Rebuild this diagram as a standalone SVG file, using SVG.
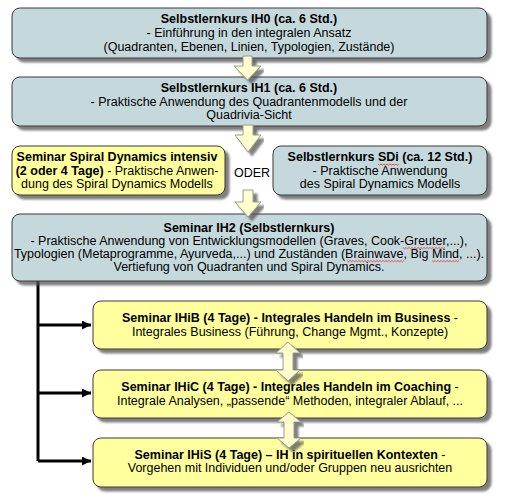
<svg xmlns="http://www.w3.org/2000/svg" width="505" height="500" viewBox="0 0 505 500">
<defs>
<filter id="sh" x="-5%" y="-10%" width="115%" height="130%">
<feDropShadow dx="4" dy="4" stdDeviation="1.2" flood-color="#555" flood-opacity="0.75"/>
</filter>
<marker id="ah" viewBox="0 0 10 10" refX="10" refY="5" markerWidth="3.4" markerHeight="3" orient="auto" markerUnits="strokeWidth">
<path d="M0,0 L10,5 L0,10 z" fill="#000"/>
</marker>
</defs>
<style>
.blue{fill:#c5d9dd;stroke:#3a3a3a;stroke-width:1}
.yel{fill:#ffff9d;stroke:#3a3a3a;stroke-width:1}
text{font-family:"Liberation Sans",Arial,sans-serif;font-size:12.5px;fill:#000;text-anchor:middle}
.b{font-weight:bold}
.arr{fill:#ffffcc;stroke:#9a9a9a;stroke-width:1}
.wave{fill:none;stroke:#e03030;stroke-width:0.8}
</style>
<rect width="505" height="500" fill="#fff"/>

<g id="connectors">
<path d="M38,281 V461" stroke="#000" stroke-width="3" fill="none"/>
<path d="M38,325 H91" stroke="#000" stroke-width="3" fill="none" marker-end="url(#ah)"/>
<path d="M38,393 H91" stroke="#000" stroke-width="3" fill="none" marker-end="url(#ah)"/>
<path d="M38,461 H91" stroke="#000" stroke-width="3" fill="none" marker-end="url(#ah)"/>
</g>

<g id="n-ih0">
<rect class="blue" x="12" y="8" width="475" height="50" rx="8" filter="url(#sh)"/>
<text x="249" y="23" class="b">Selbstlernkurs IH0 (ca. 6 Std.)</text>
<text x="249" y="37">- Einführung in den integralen Ansatz</text>
<text x="249" y="51">(Quadranten, Ebenen, Linien, Typologien, Zustände)</text>
</g>

<g id="n-ih1">
<rect class="blue" x="12" y="77" width="475" height="49" rx="8" filter="url(#sh)"/>
<text x="249" y="92" class="b">Selbstlernkurs IH1 (ca. 6 Std.)</text>
<text x="249" y="106">- Praktische Anwendung des Quadrantenmodells und der</text>
<text x="249" y="119">Quadrivia-Sicht</text>
</g>

<g id="n-sdint">
<rect class="yel" x="12" y="146" width="213" height="49" rx="8" filter="url(#sh)"/>
<text x="117" y="161" class="b">Seminar Spiral Dynamics intensiv</text>
<text x="117" y="175"><tspan class="b">(2 oder 4 Tage)</tspan> - Praktische Anwen-</text>
<text x="117" y="188">dung des Spiral Dynamics Modells</text>
</g>

<g id="n-oder">
<text x="252" y="177">ODER</text>
</g>

<g id="n-sdi">
<rect class="blue" x="273" y="146" width="214" height="49" rx="8" filter="url(#sh)"/>
<text x="380" y="161" class="b">Selbstlernkurs SDi (ca. 12 Std.)</text>
<text x="380" y="175">- Praktische Anwendung</text>
<text x="380" y="188">des Spiral Dynamics Modells</text>
<path class="wave" d="M378,164 l1.5,1.2 l1.5,-1.2 l1.5,1.2 l1.5,-1.2 l1.5,1.2 l1.5,-1.2 l1.5,1.2 l1.5,-1.2 l1.5,1.2 l1.5,-1.2 l1.5,1.2 l1.5,-1.2 l1.5,1.2 l1.5,-1.2"/>
</g>

<g id="n-ih2">
<rect class="blue" x="12" y="214" width="475" height="67" rx="8" filter="url(#sh)"/>
<text x="249" y="232" class="b">Seminar IH2 (Selbstlernkurs)</text>
<text x="249" y="245">- Praktische Anwendung von Entwicklungsmodellen (Graves, Cook-Greuter,...),</text>
<text x="249" y="258">Typologien (Metaprogramme, Ayurveda,...) und Zuständen (Brainwave, Big Mind, ...).</text>
<text x="249" y="271">Vertiefung von Quadranten und Spiral Dynamics.</text>
<path class="wave" d="M403,247.5 l1.5,1.2 l1.5,-1.2 l1.5,1.2 l1.5,-1.2 l1.5,1.2 l1.5,-1.2 l1.5,1.2 l1.5,-1.2 l1.5,1.2 l1.5,-1.2 l1.5,1.2 l1.5,-1.2 l1.5,1.2 l1.5,-1.2 l1.5,1.2 l1.5,-1.2 l1.5,1.2 l1.5,-1.2 l1.5,1.2 l1.5,-1.2 l1.5,1.2 l1.5,-1.2 l1.5,1.2 l1.5,-1.2 l1.5,1.2 l1.5,-1.2 l1.5,1.2 l1.5,-1.2"/>
<path class="wave" d="M347,260.5 l1.5,1.2 l1.5,-1.2 l1.5,1.2 l1.5,-1.2 l1.5,1.2 l1.5,-1.2 l1.5,1.2 l1.5,-1.2 l1.5,1.2 l1.5,-1.2 l1.5,1.2 l1.5,-1.2 l1.5,1.2 l1.5,-1.2 l1.5,1.2 l1.5,-1.2 l1.5,1.2 l1.5,-1.2 l1.5,1.2 l1.5,-1.2 l1.5,1.2 l1.5,-1.2 l1.5,1.2 l1.5,-1.2 l1.5,1.2 l1.5,-1.2 l1.5,1.2 l1.5,-1.2 l1.5,1.2 l1.5,-1.2 l1.5,1.2 l1.5,-1.2 l1.5,1.2 l1.5,-1.2 l1.5,1.2 l1.5,-1.2 l1.5,1.2 l1.5,-1.2"/>
<path class="wave" d="M432,260.5 l1.5,1.2 l1.5,-1.2 l1.5,1.2 l1.5,-1.2 l1.5,1.2 l1.5,-1.2 l1.5,1.2 l1.5,-1.2 l1.5,1.2 l1.5,-1.2 l1.5,1.2 l1.5,-1.2 l1.5,1.2 l1.5,-1.2 l1.5,1.2 l1.5,-1.2 l1.5,1.2 l1.5,-1.2"/>
</g>

<g id="n-ihib">
<rect class="yel" x="93" y="301" width="394" height="48" rx="8" filter="url(#sh)"/>
<text x="290" y="322"><tspan class="b">Seminar IHiB (4 Tage) - Integrales Handeln im Business</tspan> -</text>
<text x="290" y="336">Integrales Business (Führung, Change Mgmt., Konzepte)</text>
</g>

<g id="n-ihic">
<rect class="yel" x="93" y="370" width="394" height="48" rx="8" filter="url(#sh)"/>
<text x="290" y="391"><tspan class="b">Seminar IHiC (4 Tage) - Integrales Handeln im Coaching</tspan> -</text>
<text x="290" y="405">Integrale Analysen, „passende“ Methoden, integraler Ablauf, ...</text>
</g>

<g id="n-ihis">
<rect class="yel" x="93" y="438" width="394" height="49" rx="8" filter="url(#sh)"/>
<text x="290" y="459"><tspan class="b">Seminar IHiS (4 Tage) – IH in spirituellen Kontexten</tspan> -</text>
<text x="290" y="472">Vorgehen mit Individuen und/oder Gruppen neu ausrichten</text>
</g>

<g id="block-arrows">
<path class="arr" filter="url(#sh)" d="M243,56 H252 V66 H261 L247.5,80 L234,66 H243 Z"/>
<path class="arr" filter="url(#sh)" d="M243,125 H253 V135 H261 L248,152 L235,135 H243 Z"/>
<path class="arr" filter="url(#sh)" d="M243,190 H253 V202 H261 L248,217 L235,202 H243 Z"/>
<path class="arr" filter="url(#sh)" d="M288,342 L300,353 H293 V370 H300 L288,381 L276,370 H283 V353 H276 Z"/>
<path class="arr" filter="url(#sh)" d="M289,412 L301,422 H294 V438 H301 L289,448 L277,438 H284 V422 H277 Z"/>
</g>
</svg>
